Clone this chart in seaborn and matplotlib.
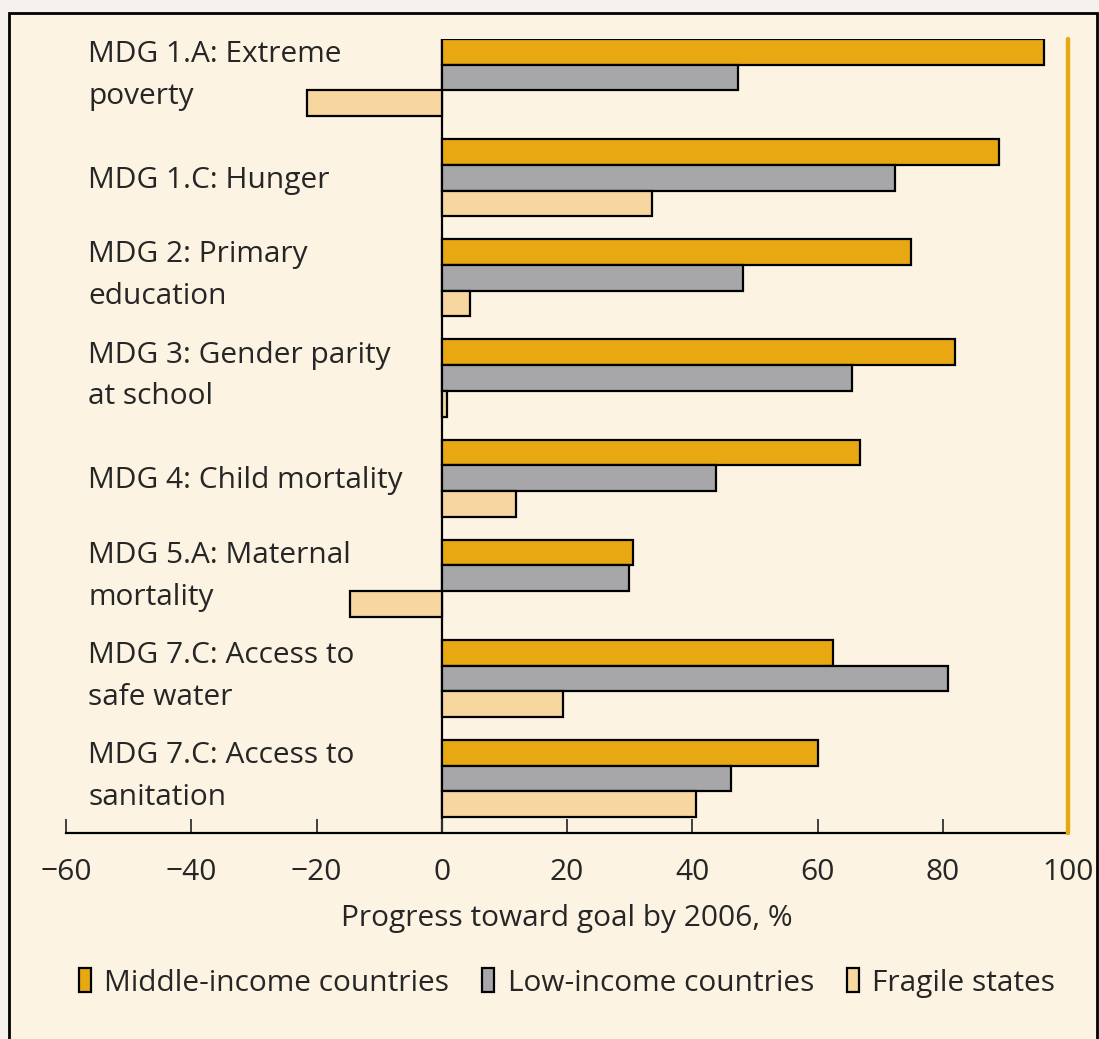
import pandas as pd
import matplotlib.pyplot as plt
import matplotlib.patches as mpatches
import seaborn as sns

# --- Data ---
goals = [
    'MDG 1.A: Extreme\npoverty',
    'MDG 1.C: Hunger',
    'MDG 2: Primary\neducation',
    'MDG 3: Gender parity\nat school',
    'MDG 4: Child mortality',
    'MDG 5.A: Maternal\nmortality',
    'MDG 7.C: Access to\nsafe water',
    'MDG 7.C: Access to\nsanitation',
]
groups = ['Middle-income countries', 'Low-income countries', 'Fragile states']
middle_income = [96.2, 89.0, 75.0, 82.0, 66.8, 30.5, 62.5, 60.1]
low_income = [47.3, 72.4, 48.1, 65.5, 43.8, 29.9, 80.9, 46.2]
fragile = [-21.5, 33.6, 4.5, 0.9, 11.9, -14.6, 19.4, 40.6]
xticks = [-60, -40, -20, 0, 20, 40, 60, 80, 100]

# --- Style ---
ORANGE = '#E8A812'
GREY = '#A7A7A9'
SAND = '#F7D6A0'
CREAM = '#FCF3E2'
OUTER = '#F5F1EC'
FS = 21.5

sns.set_style('white')
plt.rcParams['font.family'] = ['Open Sans', 'DejaVu Sans']

df = pd.DataFrame({
    'goal': goals * 3,
    'group': [g for g in groups for _ in goals],
    'value': middle_income + low_income + fragile,
})

fig = plt.figure(figsize=(10.99, 10.39), dpi=100)
fig.patch.set_facecolor(OUTER)
# framed cream panel
fig.patches.append(mpatches.Rectangle(
    (9 / 1099, -0.01), 1088 / 1099, 1 - 13 / 1039 + 0.01,
    transform=fig.transFigure, facecolor=CREAM, edgecolor='black',
    linewidth=2, zorder=-10))

ax = fig.add_axes([66 / 1099, 1 - 833 / 1039, 1002 / 1099, 794 / 1039])
ax.set_facecolor('none')

sns.barplot(data=df, x='value', y='goal', hue='group', orient='h',
            palette=[ORANGE, GREY, SAND], edgecolor='black', linewidth=1.6,
            width=0.77, saturation=1, ax=ax, legend=True)

ax.axvline(0, color='black', lw=1.6, zorder=0)
ax.axvline(100, color=ORANGE, lw=3.2, zorder=5, clip_on=False)

ax.set_xlim(-60, 100)
ax.set_ylim(7.544, -0.385)
ax.set_xticks(xticks)
ax.set_xticklabels([str(t).replace('-', '\u2212') for t in xticks], fontsize=FS)
ax.tick_params(axis='x', bottom=True, direction='in', length=10, width=1.3,
               color='#333333', pad=18)
ax.set_yticks([])
ax.set_ylabel('')
ax.set_xlabel('Progress toward goal by 2006, %', fontsize=FS, labelpad=12)

for s in ['top', 'left', 'right']:
    ax.spines[s].set_visible(False)
ax.spines['bottom'].set_linewidth(1.6)
ax.spines['bottom'].set_color('black')

# goal labels, left aligned
for i, g in enumerate(goals):
    off = -0.02 if '\n' in g else 0.025
    ax.text(0.022, i + off, g, transform=ax.get_yaxis_transform(),
            ha='left', va='center', fontsize=FS, linespacing=1.58)

# --- Legend ---
handles, labels = ax.get_legend_handles_labels()
ax.get_legend().remove()
fig.legend(handles, labels, loc='center', bbox_to_anchor=(567 / 1099, 1 - 983 / 1039),
           ncol=3, frameon=False, fontsize=FS, handlelength=0.4, handleheight=0.85,
           handletextpad=0.45, columnspacing=1.1)

fig.savefig('out.png', dpi=100, facecolor=fig.get_facecolor())
